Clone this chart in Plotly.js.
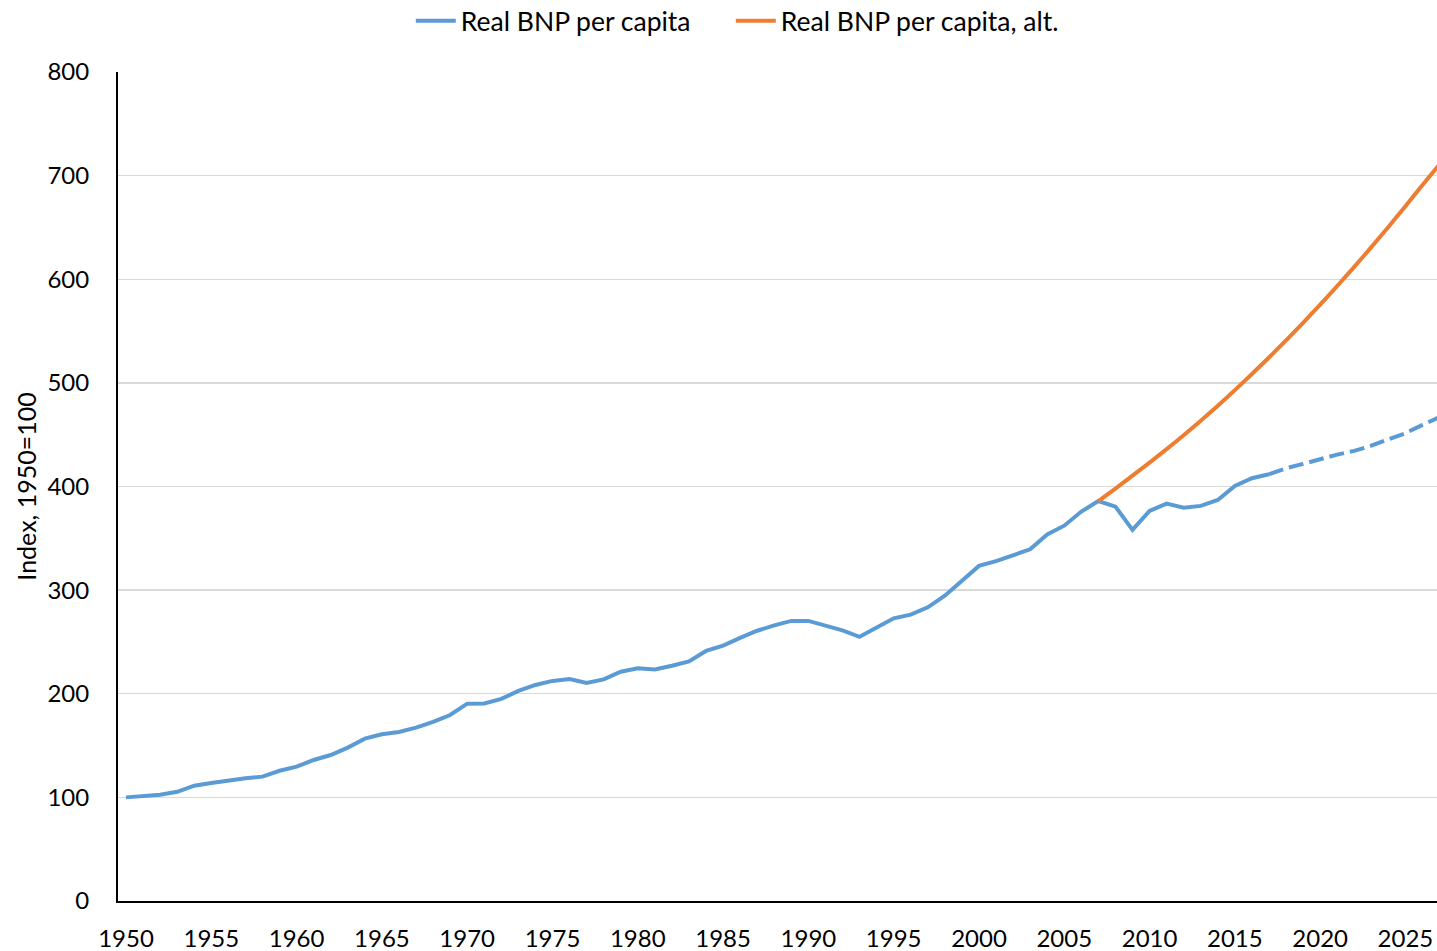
<!DOCTYPE html>
<html>
<head>
<meta charset="utf-8">
<script src="https://cdn.plot.ly/plotly-3.0.1.min.js"></script>
<style>
  html, body { margin: 0; padding: 0; background: #ffffff; }
  #chart { width: 1437px; height: 951px; }
</style>
</head>
<body>
<div id="chart"></div>
<script>
// ---- Data ----
const histYears = [1950,1951,1952,1953,1954,1955,1956,1957,1958,1959,
  1960,1961,1962,1963,1964,1965,1966,1967,1968,1969,
  1970,1971,1972,1973,1974,1975,1976,1977,1978,1979,
  1980,1981,1982,1983,1984,1985,1986,1987,1988,1989,
  1990,1991,1992,1993,1994,1995,1996,1997,1998,1999,
  2000,2001,2002,2003,2004,2005,2006,2007,2008,2009,
  2010,2011,2012,2013,2014,2015,2016,2017];
const histValues = [100,101.5,102.5,105.4,111.3,113.9,116.5,118.4,120,125.7,
  129.6,136.1,140.9,148,156.7,160.9,163.1,167.3,172.8,179.5,
  190.4,190.7,195,202.7,208.5,212.4,214.3,210.4,213.9,221.3,
  224.5,223.5,227,231.2,241.3,246.4,253.9,260.8,266,270.3,
  270.3,265.4,261.2,255,263.7,272.8,276.3,283.4,294.6,309,
  323.4,327.9,333.6,339.4,353.8,362.2,375.8,386,380.6,358.1,
  376.4,383.5,379.6,381.3,387,400.6,408,411.8];

const projYears = [2017,2018,2019,2020,2021,2022,2023,2024,2025,2026,2027];
const projValues = [411.8,417.6,421.8,426.6,430.8,434.4,439.4,445.6,451.4,459.5,467];

const altYears = [2007,2008,2009,2010,2011,2012,2013,2014,2015,2016,
  2017,2018,2019,2020,2021,2022,2023,2024,2025,2026,2027];
const altValues = [386,398,410.5,423,436,449.5,463.5,478,493,508.5,
  524.5,541,558,575.5,593.5,612,631,650.5,670.5,691,711];

const seriesNames = ['Real BNP per capita', 'Real BNP per capita, alt.'];
const xTickVals = [1950,1955,1960,1965,1970,1975,1980,1985,1990,1995,2000,2005,2010,2015,2020,2025];
const yTickVals = [0,100,200,300,400,500,600,700,800];

const BLUE = '#5B9BD5';
const ORANGE = '#ED7D31';
const FONT = 'Lato, "Open Sans", sans-serif';

const traces = [
  {
    x: histYears, y: histValues, type: 'scatter', mode: 'lines',
    name: seriesNames[0], legendwidth: 265,
    line: { color: BLUE, width: 4 },
    hoverinfo: 'x+y'
  },
  {
    x: projYears, y: projValues, type: 'scatter', mode: 'lines',
    name: seriesNames[0] + ' (proj.)', showlegend: false,
    line: { color: BLUE, width: 4, dash: '15px,6px' },
    hoverinfo: 'x+y'
  },
  {
    x: altYears, y: altValues, type: 'scatter', mode: 'lines',
    name: seriesNames[1], legendwidth: 330,
    line: { color: ORANGE, width: 4, shape: 'spline', smoothing: 0.6 },
    hoverinfo: 'x+y'
  }
];

const layout = {
  width: 1437, height: 951,
  margin: { l: 118, r: 0, t: 72, b: 50, pad: 0, autoexpand: false },
  paper_bgcolor: '#ffffff', plot_bgcolor: '#ffffff',
  font: { family: FONT, size: 24, color: '#000000' },
  showlegend: true,
  legend: {
    orientation: 'h',
    x: 0.222, xanchor: 'left',
    y: 1.0615, yanchor: 'middle',
    font: { family: FONT, size: 26.5, color: '#000000' },
    itemwidth: 40,
    bgcolor: 'rgba(0,0,0,0)',
    borderwidth: 0
  },
  xaxis: {
    type: 'linear',
    range: [1949.53, 2026.85],
    tickvals: xTickVals,
    ticktext: xTickVals.map(String),
    ticks: '',
    showgrid: false,
    zeroline: false,
    showline: true, linecolor: '#000000', linewidth: 2,
    ticklabelstandoff: 15,
    tickfont: { family: FONT, size: 24, color: '#000000' },
    automargin: false,
    fixedrange: true
  },
  yaxis: {
    range: [0, 800],
    tickvals: yTickVals,
    ticks: '',
    showgrid: true, gridcolor: '#D9D9D9', gridwidth: 1.3,
    zeroline: false,
    showline: true, linecolor: '#000000', linewidth: 2,
    ticklabelstandoff: 22,
    tickfont: { family: FONT, size: 24, color: '#000000' },
    title: { text: 'Index, 1950=100', font: { family: FONT, size: 25, color: '#000000' }, standoff: 4 },
    automargin: false,
    fixedrange: true
  }
};

Plotly.newPlot('chart', traces, layout, { displayModeBar: false, staticPlot: true });
</script>
</body>
</html>
